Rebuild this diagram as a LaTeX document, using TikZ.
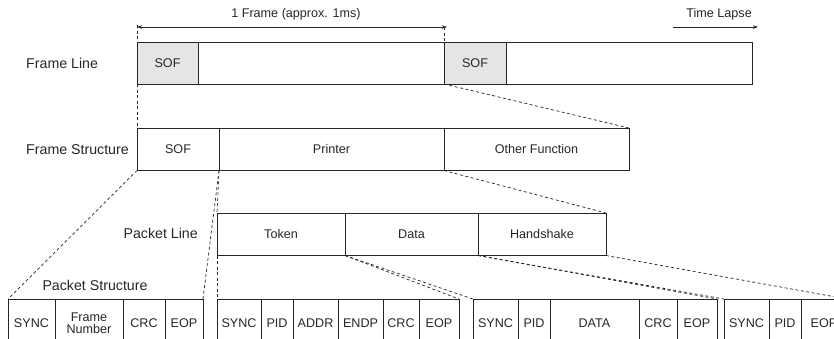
\documentclass[tikz,border=0pt]{standalone}
\usepackage{fontspec}
\setmainfont{Liberation Sans}
\usetikzlibrary{arrows.meta}
\definecolor{ink}{gray}{0.15}
\definecolor{sofgray}{gray}{0.9}
\newcommand\mycell[7][]{\node[cell,#1,minimum width={#4pt-#3pt},minimum height=#6pt] (#2) at (#3,#5) {#7};}
\begin{document}
\begin{tikzpicture}[x=1pt,y=-1pt,
  cell/.style={draw=ink,line width=0.9pt,inner sep=0pt,outer sep=0pt,anchor=north west,
    font=\fontsize{12.6}{11.5}\selectfont,text=ink,align=center},
  sof/.style={fill=sofgray},
  lbl/.style={font=\fontsize{14.2}{16}\selectfont,text=ink,inner sep=0pt},
  small/.style={font=\fontsize{12.6}{14}\selectfont,text=ink,inner sep=0pt},
  dsh/.style={draw=ink,line width=0.7pt,dash pattern=on 3pt off 2.5pt},
  arr/.style={draw=ink,line width=0.8pt},
  tip/.tip={Stealth[length=5pt,width=3.5pt]}]
\useasboundingbox (0,0) rectangle (834,338);
\clip (0,0) rectangle (834,338);

% ---- Frame Line ----
\node[lbl,anchor=west] (lFL) at (26,63) {Frame Line};
\mycell[sof]{FL1}{137}{198}{42}{42}{SOF}
\mycell{FL2}{198}{444}{42}{42}{}
\mycell[sof]{FL3}{444}{506}{42}{42}{SOF}
\mycell{FL4}{506}{752}{42}{42}{}

% ---- arrows on top ----
\coordinate (a1) at (137,27);
\coordinate (a2) at (447,27);
\coordinate (d2) at (444,27);
\draw[arr,tip-tip] (a1) -- (a2);
\node[small] (tFrame) at (296,14) {1 Frame (approx. 1ms)};
\coordinate (t1) at (673,27);
\coordinate (t2) at (758,27);
\draw[arr,-tip] (t1) -- (t2);
\node[small,anchor=east] (tLapse) at (752,14) {Time Lapse};

% ---- Frame Structure ----
\node[lbl,anchor=west] (lFS) at (26,149.5) {Frame Structure};
\mycell{FS1}{137}{219}{128}{42.5}{SOF}
\mycell{FS2}{219}{444}{128}{42.5}{Printer}
\mycell{FS3}{444}{629}{128}{42.5}{Other Function}

% ---- Packet Line ----
\node[lbl,anchor=east] (lPL) at (198,233) {Packet Line};
\mycell{PL1}{217}{345}{213}{42.5}{Token}
\mycell{PL2}{345}{478}{213}{42.5}{Data}
\mycell{PL3}{478}{606}{213}{42.5}{Handshake}

% ---- Packet Structure ----
\node[lbl] (lPS) at (95,285) {Packet Structure};
\mycell{G1a}{8}{55}{299}{48}{SYNC}
\mycell{G1b}{55}{123}{299}{48}{Frame\\Number}
\mycell{G1c}{123}{165}{299}{48}{CRC}
\mycell{G1d}{165}{203}{299}{48}{EOP}

\mycell{G2a}{217}{261}{299}{48}{SYNC}
\mycell{G2b}{261}{293}{299}{48}{PID}
\mycell{G2c}{293}{338}{299}{48}{ADDR}
\mycell{G2d}{338}{383}{299}{48}{ENDP}
\mycell{G2e}{383}{419}{299}{48}{CRC}
\mycell{G2f}{419}{459}{299}{48}{EOP}

\mycell{G3a}{473}{518}{299}{48}{SYNC}
\mycell{G3b}{518}{550}{299}{48}{PID}
\mycell{G3c}{550}{639}{299}{48}{DATA}
\mycell{G3d}{639}{677}{299}{48}{CRC}
\mycell{G3e}{677}{717}{299}{48}{EOP}

\mycell{G4a}{724}{769}{299}{48}{SYNC}
\mycell{G4b}{769}{801}{299}{48}{PID}
\mycell{G4c}{801}{847}{299}{48}{EOP}

% ---- dashed projection lines ----
\draw[dsh] (137,25) -- (FL1.north west);
\draw[dsh] (d2) -- (FL3.north west);
\draw[dsh] (FL1.south west) -- (FS1.north west);
\draw[dsh] (FL3.south west) -- (FS3.north east);
\draw[dsh] (FS1.south west) -- (G1a.north west);
\draw[dsh] (FS1.south east) -- (G1d.north east);
\draw[dsh] (FS1.south east) -- (PL1.north west);
\draw[dsh] (FS2.south east) -- (PL3.north east);
\draw[dsh] (PL1.south west) -- (G2a.north west);
\draw[dsh] (PL1.south east) -- (G2f.north east);
\draw[dsh] (PL2.south west) -- (G3a.north west);
\draw[dsh] (PL2.south east) -- (G3e.north east);
\draw[dsh] (PL3.south west) -- (G4a.north west);
\draw[dsh] (PL3.south east) -- (G4c.north east);
\end{tikzpicture}
\end{document}
